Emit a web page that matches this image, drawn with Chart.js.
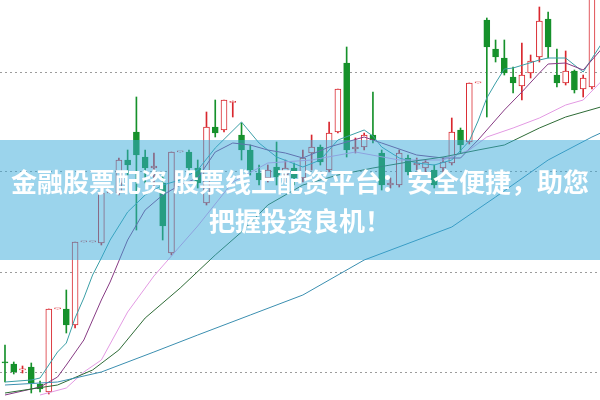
<!DOCTYPE html>
<html lang="zh">
<head>
<meta charset="UTF-8">
<title>K线图</title>
<script src="https://cdn.jsdelivr.net/npm/chart.js"></script>
<style>
    html, body { margin: 0; padding: 0; background: #fff; }
    .wrap { position: relative; width: 600px; height: 400px; overflow: hidden; }
    canvas { display: block; }
    .banner {
        position: absolute; left: 0; top: 140px; width: 600px; height: 120px;
        background: rgba(55, 169, 217, 0.5);
        display: flex; align-items: center; justify-content: center;
        text-align: center; color: #fff;
        font-family: "Noto Sans CJK SC", sans-serif; font-weight: bold;
        font-size: 26px; line-height: 39px;
    }
</style>
</head>
<body>
<div class="wrap">
    <canvas id="kChart" width="600" height="400"></canvas>
    <div class="banner"><div>金融股票配资 股票线上配资平台：安全便捷，助您<br>把握投资良机！</div></div>
</div>
<script>
// --- candles (one per trading day, index 0..67) ---
const opens  = [15.5, 15.4, 15.1, 15.25, 14.4, 14.0, 18.15, 18.15, 17.35, 21.5, 21.5, 21.45, 23.95, 23.95, 25.6, 27.0, 25.75, 25.2, 24.45, 20.95, 26.0, 26.0, 25.2, 23.45, 27.25, 27.1, 28.475, 26.85, 26.1, 24.95, 24.7, 25.25, 24.85, 25.2, 24.7, 25.95, 26.25, 25.1, 27.0, 30.45, 26.15, 26.25, 26.85, 25.95, 24.35, 24.35, 25.7, 25.35, 25.2, 25.1, 25.2, 25.45, 27.1, 26.5, 29.45, 32.6, 31.15, 30.7, 29.75, 29.3, 29.95, 30.75, 32.65, 29.85, 29.45, 30.05, 29.15, 29.25];
const highs  = [16.35, 15.5, 15.3, 15.45, 14.55, 18.15, 18.15, 19.1, 21.5, 21.5, 21.5, 23.95, 23.95, 25.7, 26.1, 28.75, 26.1, 25.95, 24.95, 26.0, 26.0, 26.1, 25.6, 28.0, 28.6, 28.6, 28.55, 27.45, 26.35, 25.35, 25.35, 26.5, 25.6, 25.45, 26.1, 26.85, 26.35, 27.5, 29.15, 31.25, 26.7, 26.95, 29.0, 26.1, 24.7, 26.1, 25.85, 25.7, 25.6, 25.35, 25.7, 27.7, 27.2, 29.45, 29.45, 32.7, 31.6, 31.6, 30.25, 31.45, 30.85, 33.25, 33.0, 31.15, 31.05, 30.1, 29.85, 34.1];
const lows   = [14.5, 14.9, 14.95, 13.95, 14.0, 13.9, 18.15, 16.95, 17.2, 21.5, 21.5, 21.35, 23.95, 23.85, 24.85, 22.1, 24.45, 24.25, 21.6, 20.85, 26.0, 24.95, 24.2, 23.35, 26.75, 27.0, 27.75, 25.6, 24.85, 24.35, 24.5, 24.35, 24.5, 24.35, 24.5, 25.1, 25.35, 25.0, 26.95, 25.75, 25.95, 26.1, 26.45, 24.1, 24.2, 24.25, 24.85, 25.1, 25.0, 24.2, 25.0, 25.35, 25.95, 26.4, 29.45, 27.75, 30.5, 29.85, 28.95, 28.6, 29.7, 30.5, 30.7, 29.25, 29.35, 28.95, 28.75, 29.15];
const closes = [15.45, 15.0, 15.15, 14.45, 14.15, 18.15, 18.15, 17.35, 21.5, 21.5, 21.5, 23.95, 23.95, 25.6, 25.35, 25.85, 25.2, 25.3, 22.3, 26.0, 26.0, 25.2, 24.45, 27.25, 26.95, 28.6, 28.5, 26.1, 25.1, 24.6, 25.1, 24.75, 25.2, 24.7, 25.7, 26.25, 25.5, 26.95, 29.15, 26.1, 26.25, 26.85, 26.6, 24.35, 24.45, 25.95, 25.0, 25.45, 25.5, 24.35, 25.5, 27.0, 26.35, 29.45, 29.45, 31.25, 30.75, 29.95, 29.45, 29.85, 30.55, 32.55, 31.25, 29.45, 30.05, 29.1, 29.7, 33.85];

// --- moving averages (day index, price) ---
const ma5Days  = [0, 3, 4, 5, 6, 7, 8, 9, 10, 11, 12, 14, 16, 18, 20, 22, 24, 27, 29, 31, 34, 36, 38, 41, 42, 43, 45, 47, 49, 51, 53, 54, 55, 56, 57, 58, 61, 62, 64, 66, 68];
const ma5      = [14.5, 14.6, 14.7, 15.35, 16.0, 16.45, 17.7, 18.7, 19.85, 20.7, 21.6, 23.0, 23.85, 24.35, 24.6, 25.1, 26.2, 27.5, 26.45, 25.75, 25.25, 25.6, 26.6, 27.1, 26.8, 26.25, 25.7, 25.45, 25.35, 25.6, 26.55, 27.55, 28.7, 29.45, 30.15, 30.2, 30.6, 30.7, 30.7, 30.0, 31.35];
const ma10Days = [0, 4, 6, 7, 9, 11, 12, 14, 16, 18, 20, 22, 24, 26, 28, 30, 32, 34, 37, 41, 43, 47, 50, 52, 54, 57, 59, 61, 62, 64, 66, 67, 68];
const ma10     = [13.85, 14.25, 14.75, 15.35, 16.6, 18.6, 19.5, 21.6, 23.1, 23.85, 24.35, 24.7, 26.0, 26.45, 26.35, 26.1, 25.95, 25.7, 26.25, 26.75, 26.45, 25.85, 25.7, 25.7, 26.6, 28.1, 29.0, 29.95, 30.4, 30.45, 30.1, 30.6, 31.1];
const ma20Days = [4, 7, 9, 11, 14, 17, 20, 22, 26, 30, 35, 40, 45, 50, 53, 55, 58, 61, 64, 66, 68];
const ma20     = [13.85, 14.2, 15.0, 15.6, 18.0, 19.8, 21.3, 22.3, 24.5, 25.45, 25.6, 26.0, 25.6, 25.6, 26.1, 26.75, 27.2, 27.7, 28.35, 28.6, 29.5];
const ma30Days = [0, 6, 10, 13, 16, 20, 24, 27, 30, 34, 38, 42, 46, 50, 54, 57, 61, 64, 68];
const ma30     = [13.95, 14.35, 15.1, 16.1, 17.7, 19.2, 20.85, 22.0, 23.35, 24.35, 24.85, 25.2, 25.5, 25.75, 26.1, 26.35, 27.2, 27.75, 28.25];
const ma60Days = [0, 6, 11, 17, 22, 28, 34, 41, 51, 56, 62, 67, 68];
const ma60     = [14.35, 14.5, 15.0, 16.0, 16.85, 17.85, 18.85, 20.6, 22.25, 23.75, 25.6, 26.75, 26.95];

// dotted price lines
const gridPrices = [15, 20, 25, 30];

const UP = '#d9272e';
const DOWN = '#16912b';

const isUp = closes.map((c, i) => c >= opens[i]);
const wicks = closes.map((c, i) => ({ x: i, y: [lows[i], highs[i]] }));
const bodies = closes.map((c, i) => {
    let lo = Math.min(opens[i], c), hi = Math.max(opens[i], c);
    if (hi - lo < 0.06) hi = lo + 0.06;
    return { x: i, y: [lo, hi] };
});
const colors = isUp.map(u => u ? UP : DOWN);
const fills = isUp.map(u => u ? '#ffffff' : DOWN);

function maLine(days, vals, color) {
    return {
        type: 'line',
        data: days.map((d, i) => ({ x: d, y: vals[i] })),
        borderColor: color,
        borderWidth: 1,
        pointRadius: 0,
        tension: 0,
        order: 1
    };
}

new Chart(document.getElementById('kChart').getContext('2d'), {
    type: 'bar',
    data: {
        datasets: [
            {
                data: wicks,
                backgroundColor: colors,
                borderWidth: 0,
                barThickness: 1,
                grouped: false,
                order: 3
            },
            {
                data: bodies,
                backgroundColor: fills,
                borderColor: colors,
                borderWidth: 1,
                borderSkipped: false,
                barThickness: 6,
                grouped: false,
                order: 2
            },
            maLine(ma60Days, ma60, '#3b8fb0'),
            maLine(ma30Days, ma30, '#2e6b36'),
            maLine(ma20Days, ma20, '#e39ae3'),
            maLine(ma10Days, ma10, '#873b84'),
            maLine(ma5Days, ma5, '#3a9ea6')
        ]
    },
    options: {
        responsive: false,
        animation: false,
        events: [],
        layout: { padding: 0 },
        plugins: { legend: { display: false }, tooltip: { enabled: false } },
        scales: {
            x: { type: 'linear', offset: false, min: -0.57, max: 67.92, display: false },
            y: {
                min: 13.6,
                max: 33.6,
                afterBuildTicks: s => { s.ticks = gridPrices.map(v => ({ value: v })); },
                afterFit: s => { s.width = 0; },
                ticks: { display: false },
                grid: { color: '#9c9c9c', drawTicks: false, lineWidth: 1 },
                border: { display: false, dash: [2, 3] }
            }
        }
    }
});
</script>
</body>
</html>
